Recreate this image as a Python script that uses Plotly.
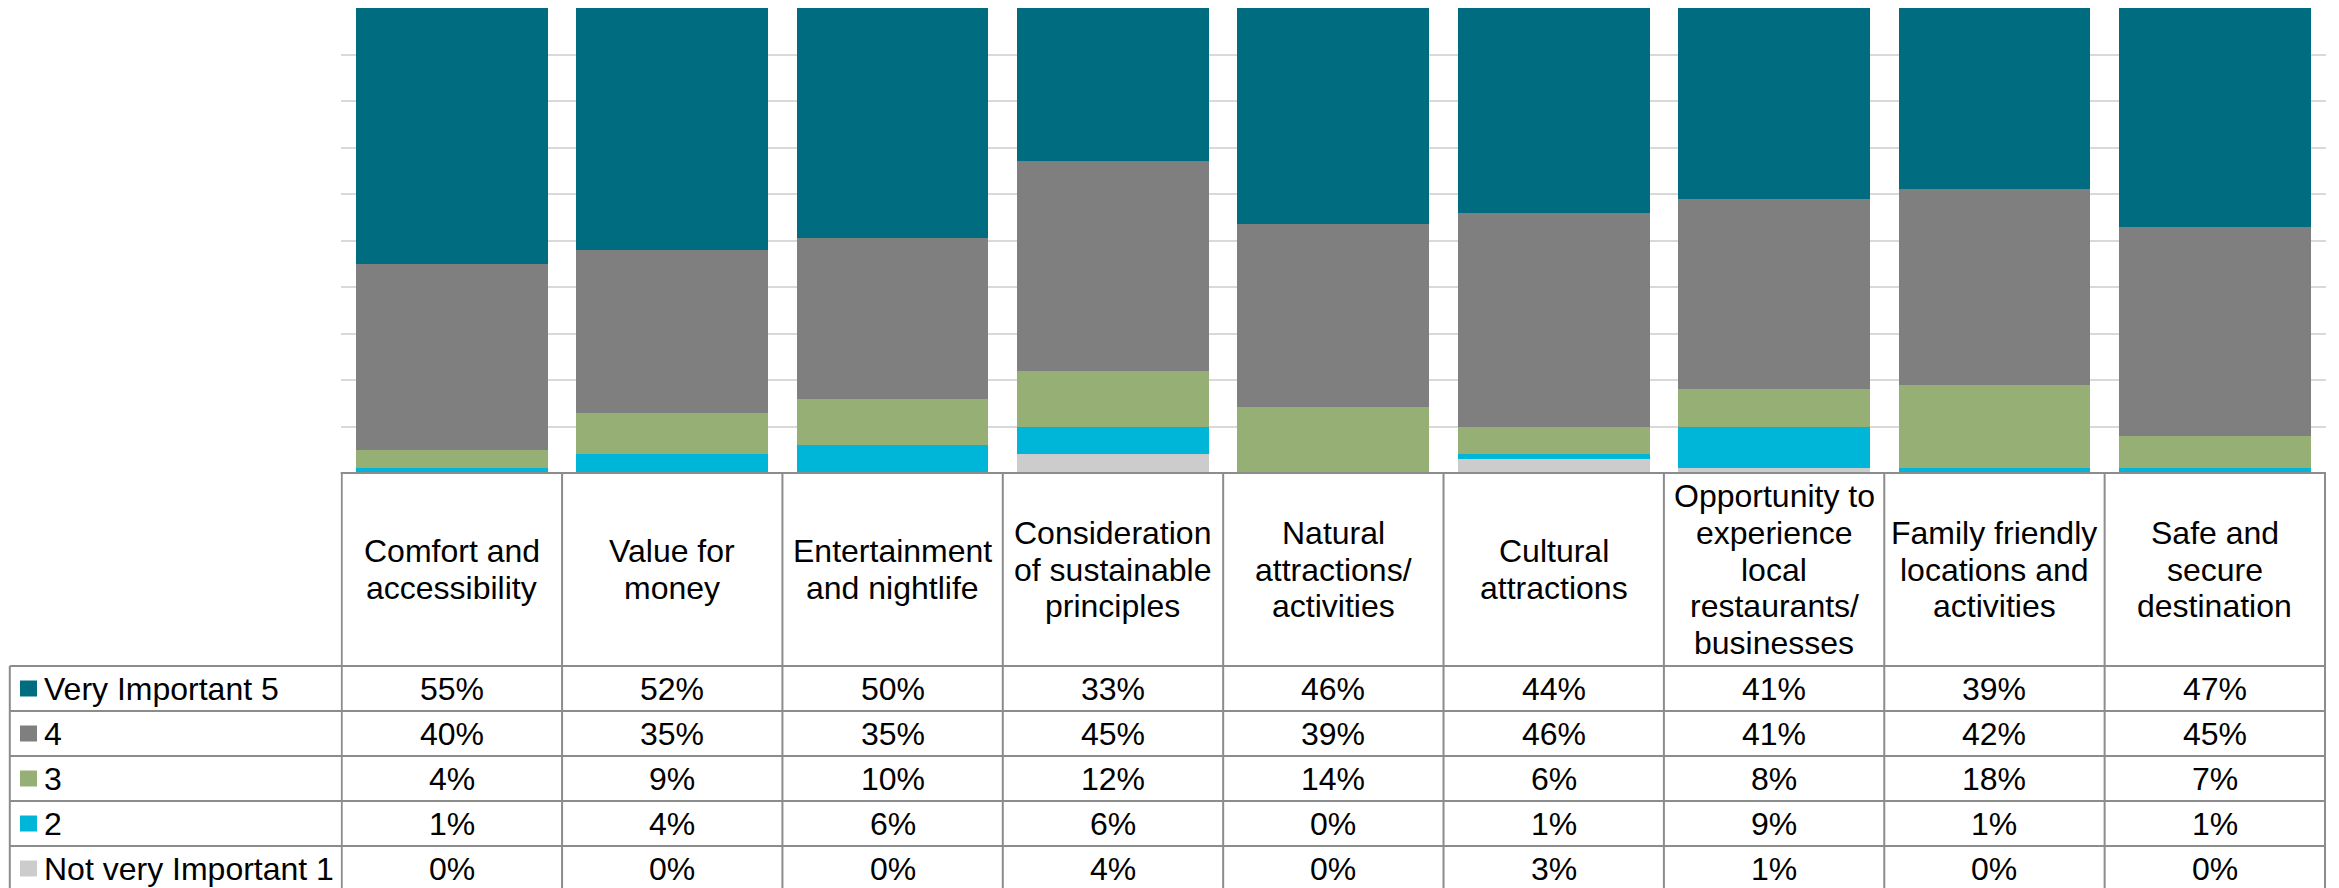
import plotly.graph_objects as go

# categories (header lines of the data table)
categories = [
    "Comfort and accessibility",
    "Value for money",
    "Entertainment and nightlife",
    "Consideration of sustainable principles",
    "Natural attractions/ activities",
    "Cultural attractions",
    "Opportunity to experience local restaurants/ businesses",
    "Family friendly locations and activities",
    "Safe and secure destination",
]
header_lines = [
    ["Comfort and", "accessibility"],
    ["Value for", "money"],
    ["Entertainment", "and nightlife"],
    ["Consideration", "of sustainable", "principles"],
    ["Natural", "attractions/", "activities"],
    ["Cultural", "attractions"],
    ["Opportunity to", "experience", "local", "restaurants/", "businesses"],
    ["Family friendly", "locations and", "activities"],
    ["Safe and", "secure", "destination"],
]

very_important_5 = [55, 52, 50, 33, 46, 44, 41, 39, 47]
rating_4 = [40, 35, 35, 45, 39, 46, 41, 42, 45]
rating_3 = [4, 9, 10, 12, 14, 6, 8, 18, 7]
rating_2 = [1, 4, 6, 6, 0, 1, 9, 1, 1]
not_very_important_1 = [0, 0, 0, 4, 0, 3, 1, 0, 0]

# table rows, top to bottom
series = [
    ("Very Important 5", very_important_5, "#006C80"),
    ("4", rating_4, "#7F7F7F"),
    ("3", rating_3, "#95AF74"),
    ("2", rating_2, "#00B6D8"),
    ("Not very Important 1", not_very_important_1, "#CCCCCC"),
]

# the page body keeps an 8px margin, so the figure is drawn 8px in
OFF = 8
W, H = 2339 - OFF, 888 - OFF
FONT = "Liberation Sans, Arial, sans-serif"
FS = 32
LINE = "#8C8C8C"


def px(x):
    return (x - OFF) / W


def py(y):
    return 1 - (y - OFF) / H


plot_left, plot_right = 340.7, 2326
plot_top, plot_bottom = 8, 473
row_tops = [666, 711, 756, 801, 846]
row_h = 45
table_left = 9.8

fig = go.Figure()
# stack from the bottom: 1 first, 5 last
for name, vals, color in reversed(series):
    fig.add_bar(x=categories, y=vals, name=name, marker_color=color,
                marker_line_width=0)

shapes = []
# header top border
shapes.append(dict(type="line", xref="paper", yref="paper",
                   x0=px(plot_left), x1=px(plot_right),
                   y0=py(plot_bottom), y1=py(plot_bottom),
                   line=dict(color=LINE, width=2)))
# row borders
for yt in row_tops:
    shapes.append(dict(type="line", xref="paper", yref="paper",
                       x0=px(table_left), x1=px(plot_right),
                       y0=py(yt), y1=py(yt),
                       line=dict(color=LINE, width=2)))
# column borders
for i in range(len(categories) + 1):
    shapes.append(dict(type="line", xref="x", yref="paper",
                       x0=i - 0.5, x1=i - 0.5,
                       y0=py(plot_bottom), y1=0,
                       line=dict(color=LINE, width=2)))
shapes.append(dict(type="line", xref="paper", yref="paper",
                   x0=px(table_left), x1=px(table_left),
                   y0=py(row_tops[0]), y1=0,
                   line=dict(color=LINE, width=2)))

annotations = []
# header text, one annotation per line
header_mid = (plot_bottom + row_tops[0]) / 2
spacing = 36.7
for i, lines in enumerate(header_lines):
    n = len(lines)
    for k, line in enumerate(lines):
        yc = header_mid + (k - (n - 1) / 2) * spacing
        annotations.append(dict(x=i, y=py(yc), xref="x", yref="paper",
                                text=line, showarrow=False,
                                xanchor="center", yanchor="middle",
                                font=dict(family=FONT, size=FS, color="black")))

# legend keys, names and values
for r, (name, vals, color) in enumerate(series):
    yc = row_tops[r] + row_h / 2
    shapes.append(dict(type="rect", xref="paper", yref="paper",
                       x0=px(20), x1=px(37), y0=py(yc - 8), y1=py(yc + 8),
                       fillcolor=color, line=dict(width=0)))
    annotations.append(dict(x=px(42), y=py(yc), xref="paper", yref="paper",
                            text=name, showarrow=False,
                            xanchor="left", yanchor="middle",
                            font=dict(family=FONT, size=FS, color="black")))
    for i, v in enumerate(vals):
        annotations.append(dict(x=i, y=py(yc), xref="x", yref="paper",
                                text=f"{v}%", showarrow=False,
                                xanchor="center", yanchor="middle",
                                font=dict(family=FONT, size=FS, color="black")))

fig.update_layout(
    width=W, height=H,
    margin=dict(l=0, r=0, t=0, b=0),
    paper_bgcolor="white", plot_bgcolor="white",
    barmode="stack", barnorm="percent", bargap=0.13,
    showlegend=False,
    xaxis=dict(domain=[px(plot_left), px(plot_right)], showticklabels=False,
               showgrid=False, showline=False, ticks="", zeroline=False),
    yaxis=dict(domain=[py(plot_bottom), py(plot_top)], range=[0, 100],
               dtick=10, showticklabels=False, showgrid=True,
               gridcolor="#D9D9D9", gridwidth=1.5, zeroline=False,
               showline=False, ticks=""),
    shapes=shapes,
    annotations=annotations,
)

fig.write_html("out.html")
